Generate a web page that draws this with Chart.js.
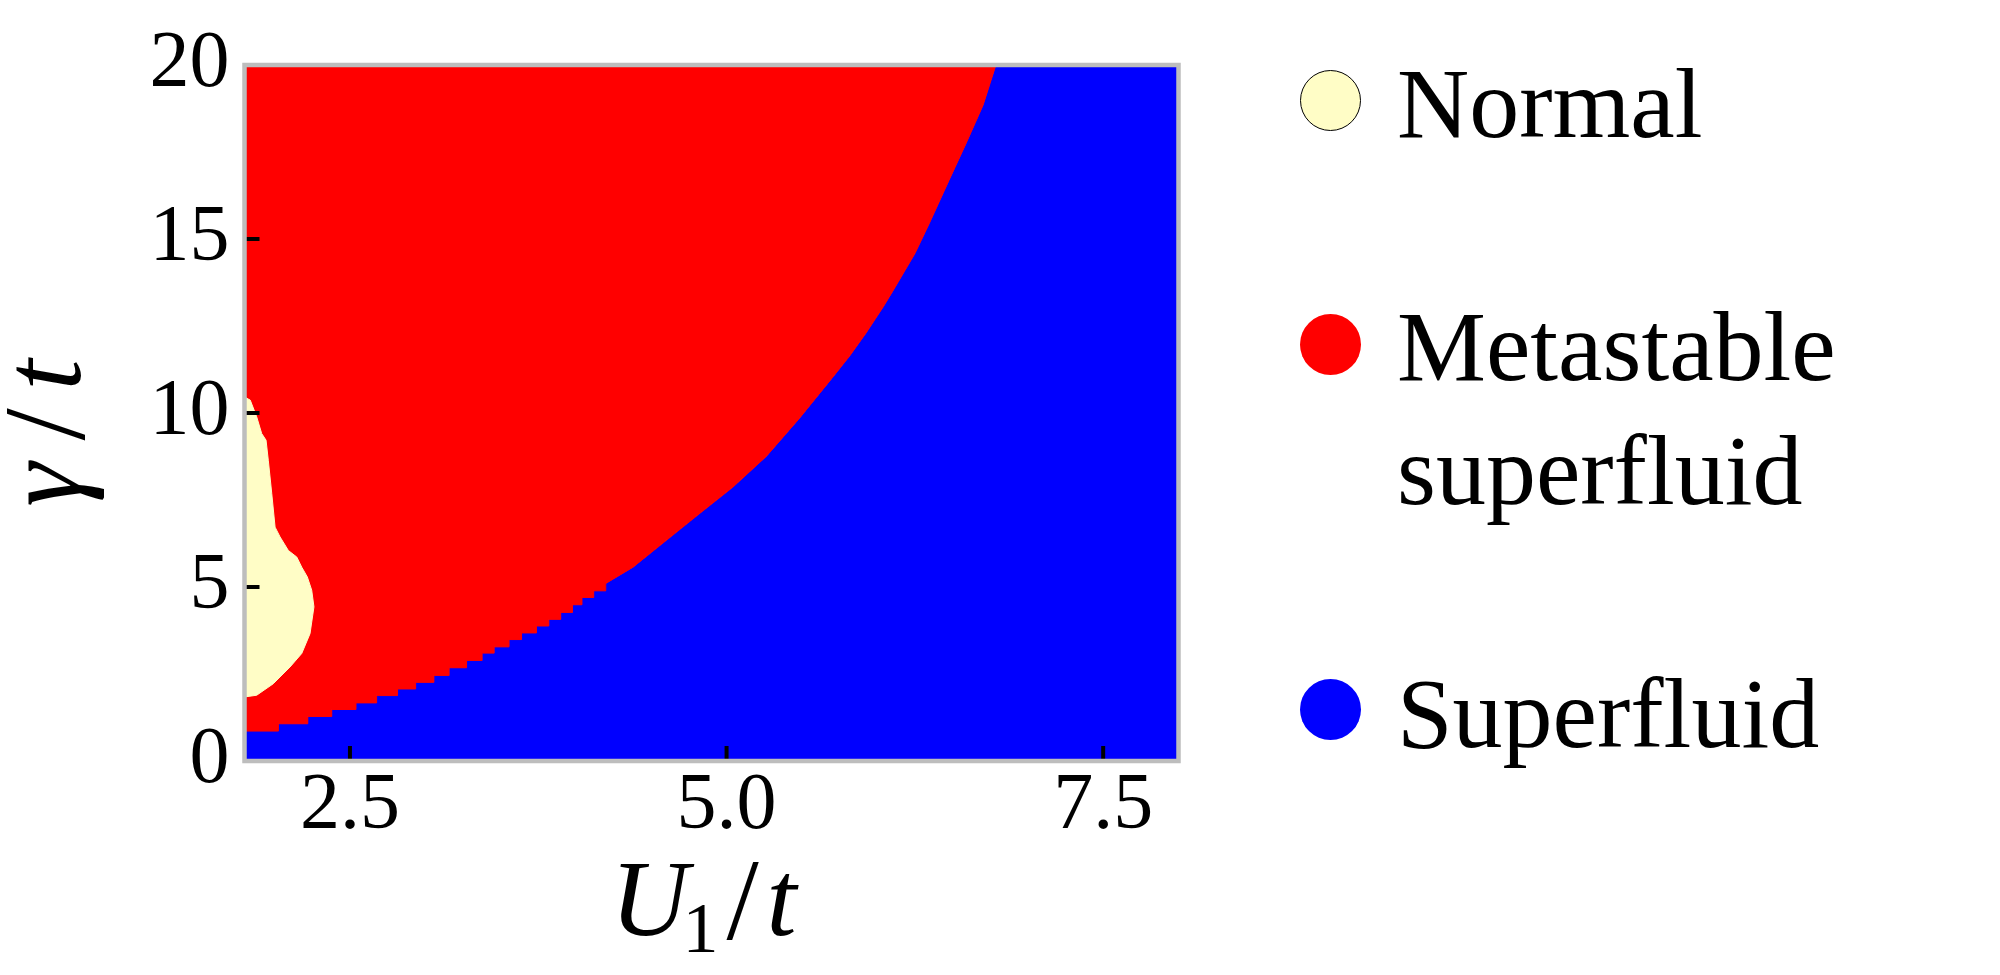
<!DOCTYPE html>
<html>
<head>
<meta charset="utf-8">
<script src="https://cdn.jsdelivr.net/npm/chart.js@4.4.1/dist/chart.umd.min.js"></script>
<style>
  html, body { margin: 0; padding: 0; background: #fff; }
  #wrap { position: relative; width: 2000px; height: 975px; }
  #legend { position: absolute; left: 0; top: 0; font-family: "Liberation Serif", "Times New Roman", serif; font-size: 100px; color: #000; }
  .dot { position: absolute; left: 1300px; width: 61px; height: 61px; border-radius: 50%; box-sizing: border-box; }
  .lbl { position: absolute; left: 1397px; line-height: 124px; white-space: pre; }
</style>
</head>
<body>
<div id="wrap">
  <canvas id="phaseChart" width="2000" height="975"></canvas>
  <div id="legend"></div>
</div>
<script>
const serif = '"Liberation Serif", "Times New Roman", serif';

// axes
const uRange = [1.8, 8.0];
const gammaRange = [0, 20];
const uTicks = [2.5, 5.0, 7.5];
const gammaTicks = [0, 5, 10, 15, 20];

// normal pocket at the left edge: upper and lower edge
const normalTopU = [1.8, 1.838, 1.881, 1.914, 1.943, 1.958, 1.981, 2.003, 2.036, 2.091, 2.147, 2.180, 2.217, 2.246, 2.261];
const normalTopGamma = [10.46, 10.37, 9.89, 9.41, 9.22, 8.64, 7.68, 6.72, 6.44, 6.05, 5.86, 5.57, 5.29, 4.91, 4.43];
const normalBotU = [1.8, 1.881, 1.991, 2.102, 2.180, 2.235, 2.261];
const normalBotGamma = [1.84, 1.89, 2.22, 2.70, 3.09, 3.66, 4.43];

// metastable / superfluid border, coarse staircase part
const stairU = [1.8, 2.025, 2.220, 2.379, 2.540, 2.677, 2.816, 2.936, 3.057, 3.158, 3.274, 3.377, 3.457, 3.556, 3.639, 3.738, 3.820, 3.899, 3.977, 4.040, 4.118, 4.198];
const stairGamma = [0.86, 1.07, 1.28, 1.48, 1.67, 1.88, 2.07, 2.26, 2.46, 2.68, 2.89, 3.10, 3.28, 3.49, 3.68, 3.88, 4.07, 4.27, 4.49, 4.70, 4.89, 5.10];

// metastable / superfluid border, steep part (starts one step early so the fills overlap)
const edgeU = [4.118, 4.198, 4.379, 4.600, 4.821, 5.042, 5.263, 5.484, 5.705, 5.819, 5.926, 6.040, 6.103, 6.250, 6.346, 6.480, 6.589, 6.703, 6.788];
const edgeGamma = [4.89, 5.10, 5.57, 6.34, 7.11, 7.87, 8.75, 9.85, 11.03, 11.65, 12.30, 13.05, 13.50, 14.58, 15.45, 16.72, 17.74, 18.85, 20.0];

const phaseNames = ["Normal", "Metastable\nsuperfluid", "Superfluid"];
const phaseColors = ["#FFFDC6", "#FF0000", "#0000FF"];

function pts(us, gs) {
  return us.map((u, i) => ({ x: u, y: gs[i] }));
}

const stairPts = pts(stairU, stairGamma);
const edgePts = pts(edgeU, edgeGamma);
// superfluid also covers the strip right of the border up to the top
const edgeBluePts = edgePts.concat([{ x: uRange[1], y: gammaRange[1] }]);

function region(data, color, fill, order, stepped) {
  return {
    data: data,
    fill: fill,
    backgroundColor: color,
    borderColor: color,
    borderWidth: 1,
    pointRadius: 0,
    pointHitRadius: 0,
    tension: 0,
    stepped: stepped || false,
    order: order,
  };
}

function mathText(ctx, parts, cx, cy) {
  let w = 0;
  parts.forEach((p) => {
    ctx.font = p.f;
    p.w = ctx.measureText(p.t).width;
    w += p.w + (p.gap || 0);
  });
  let x = cx - w / 2;
  parts.forEach((p) => {
    ctx.font = p.f;
    ctx.fillText(p.t, x, cy + (p.dy || 0));
    x += p.w + (p.gap || 0);
  });
}

const framePlugin = {
  id: "frame",
  afterDatasetsDraw(chart) {
    const { ctx, chartArea: a, scales } = chart;
    ctx.save();
    // inward tick marks
    ctx.strokeStyle = "#000";
    ctx.lineWidth = 4;
    ctx.beginPath();
    uTicks.forEach((v) => {
      const px = scales.x.getPixelForValue(v);
      ctx.moveTo(px, a.bottom);
      ctx.lineTo(px, a.bottom - 15);
    });
    gammaTicks.forEach((v) => {
      const py = scales.y.getPixelForValue(v);
      ctx.moveTo(a.left, py);
      ctx.lineTo(a.left + 15, py);
    });
    ctx.stroke();
    // gray frame
    ctx.strokeStyle = "#bdbdbd";
    ctx.lineWidth = 4.5;
    ctx.strokeRect(a.left, a.top, a.right - a.left, a.bottom - a.top);

    // axis titles
    ctx.fillStyle = "#000";
    ctx.textBaseline = "alphabetic";
    ctx.textAlign = "left";
    mathText(ctx, [
      { t: "U", f: "italic 108px " + serif, gap: -6 },
      { t: "1", f: "72px " + serif, dy: 17, gap: 8 },
      { t: "/", f: "116px " + serif, dy: 4, gap: 8 },
      { t: "t", f: "italic 108px " + serif },
    ], (a.left + a.right) / 2 - 8, 935);

    ctx.translate(80, (a.top + a.bottom) / 2 + 20);
    ctx.rotate(-Math.PI / 2);
    mathText(ctx, [
      { t: "\u03b3", f: "italic 112px " + serif, gap: 22 },
      { t: "/", f: "116px " + serif, dy: 4, gap: 18 },
      { t: "t", f: "italic 112px " + serif },
    ], 0, 0);
    ctx.restore();
  },
};

const ctx = document.getElementById("phaseChart");

const phaseChart = new Chart(ctx, {
  type: "line",
  data: {
    datasets: [
      region(pts(normalTopU, normalTopGamma), phaseColors[0], "+1", 1),
      region(pts(normalBotU, normalBotGamma), phaseColors[0], false, 1),
      region(stairPts, phaseColors[1], "end", 2, true),
      region(edgePts, phaseColors[1], "end", 2),
      region(stairPts, phaseColors[2], "start", 3, true),
      region(edgeBluePts, phaseColors[2], "start", 3),
    ],
  },
  options: {
    responsive: false,
    animation: false,
    events: [],
    layout: {
      padding: { top: 65, right: 821.5, left: 0, bottom: 0 },
    },
    plugins: {
      legend: { display: false },
      tooltip: { enabled: false },
    },
    scales: {
      x: {
        type: "linear",
        min: uRange[0],
        max: uRange[1],
        grid: { display: false, drawTicks: false },
        border: { display: false },
        afterBuildTicks: (s) => { s.ticks = uTicks.map((v) => ({ value: v })); },
        afterFit: (s) => { s.height = 214; },
        ticks: {
          color: "#000",
          padding: 6,
          maxRotation: 0,
          font: { family: serif, size: 80, lineHeight: 1 },
          callback: (v) => Number(v).toFixed(1),
        },
      },
      y: {
        type: "linear",
        min: gammaRange[0],
        max: gammaRange[1],
        grid: { display: false, drawTicks: false },
        border: { display: false },
        afterBuildTicks: (s) => { s.ticks = gammaTicks.map((v) => ({ value: v })); },
        afterFit: (s) => { s.width = 244.5; },
        ticks: {
          color: "#000",
          padding: 15,
          font: { family: serif, size: 80, lineHeight: 1 },
        },
      },
    },
  },
  plugins: [framePlugin],
});

// legend
const dotTops = [70, 314, 679];
const textTops = [42, 285, 652];
const legendEl = document.getElementById("legend");
phaseNames.forEach((name, i) => {
  const dot = document.createElement("div");
  dot.className = "dot";
  dot.style.top = dotTops[i] + "px";
  dot.style.background = phaseColors[i];
  if (i === 0) dot.style.border = "1.5px solid #000";
  legendEl.appendChild(dot);
  const lbl = document.createElement("div");
  lbl.className = "lbl";
  lbl.style.top = textTops[i] + "px";
  lbl.textContent = name;
  legendEl.appendChild(lbl);
});
</script>
</body>
</html>
